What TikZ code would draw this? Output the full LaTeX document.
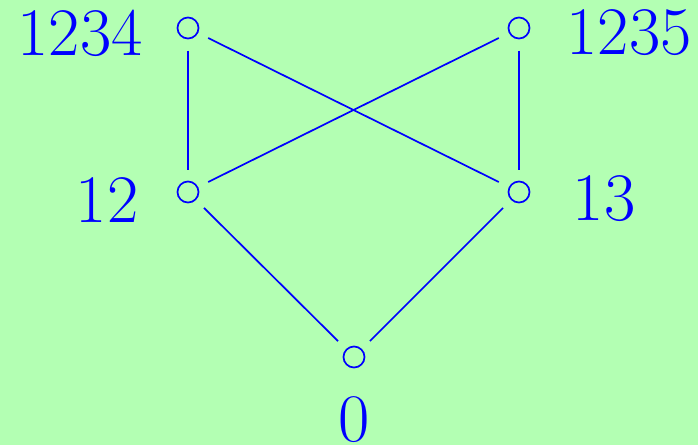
\documentclass[tikz,border=0pt]{standalone}
\definecolor{bg}{RGB}{179,255,179}
\definecolor{fg}{RGB}{0,0,255}
\begin{document}
\begin{tikzpicture}[x=1pt,y=-1pt,
  vert/.style={circle,draw=fg,line width=1.7pt,minimum size=21pt,inner sep=0pt,outer sep=12pt},
  lab/.style={text=fg,font=\fontsize{68}{74}\selectfont,inner sep=0pt},
  edge/.style={draw=fg,line width=1.7pt}]
\fill[bg] (0,0) rectangle (698,445);
\useasboundingbox (0,0) rectangle (698,445);
\node[vert] (a) at (188,28) {};
\node[vert] (b) at (519,28) {};
\node[vert] (c) at (188,192) {};
\node[vert] (d) at (519,192) {};
\node[vert] (e) at (354,357) {};
\node[lab] (la) at (80,33) {1234};
\node[lab] (lb) at (629,33) {1235};
\node[lab] (lc) at (107,200) {12};
\node[lab] (ld) at (604,199) {13};
\node[lab] (le) at (354,420) {0};
\draw[edge] (a) -- (c);
\draw[edge] (a) -- (d);
\draw[edge] (b) -- (c);
\draw[edge] (b) -- (d);
\draw[edge] (c) -- (e);
\draw[edge] (d) -- (e);
\end{tikzpicture}
\end{document}
